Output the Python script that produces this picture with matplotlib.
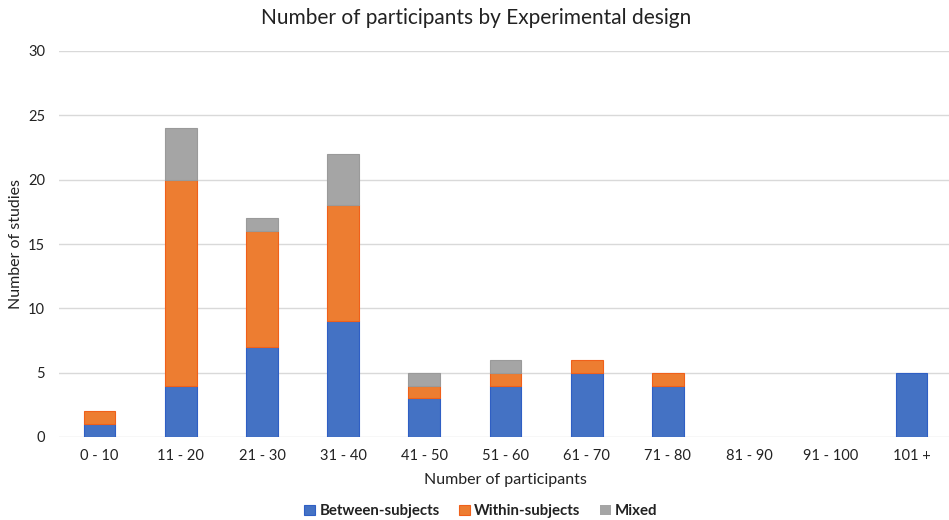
import matplotlib
matplotlib.use("Agg")
import matplotlib.pyplot as plt
import numpy as np

categories = ["0 - 10", "11 - 20", "21 - 30", "31 - 40", "41 - 50", "51 - 60",
              "61 - 70", "71 - 80", "81 - 90", "91 - 100", "101 +"]
between = [1, 4, 7, 9, 3, 4, 5, 4, 0, 0, 5]
within = [1, 16, 9, 9, 1, 1, 1, 1, 0, 0, 0]
mixed = [0, 4, 1, 4, 1, 1, 0, 0, 0, 0, 0]
yticks = [0, 5, 10, 15, 20, 25, 30]

plt.rcParams['font.family'] = ['Lato', 'DejaVu Sans']

fig = plt.figure(figsize=(9.49, 5.2), dpi=100)
W, H = 949, 520
ax = fig.add_axes([59 / W, (520 - 437) / H, 893 / W, (437 - 51) / H])

x = np.arange(len(categories))
b = np.array(between)
w = np.array(within)
m = np.array(mixed)
bw = 0.39

def lw(v):
    return [0.8 if vi > 0 else 0 for vi in v]

ax.bar(x, b, bw, color="#4472C4", edgecolor="#2F5FC4", linewidth=lw(b), label="Between-subjects", zorder=3)
ax.bar(x, w, bw, bottom=b, color="#ED7D31", edgecolor="#F0601A", linewidth=lw(w), label="Within-subjects", zorder=3)
ax.bar(x, m, bw, bottom=b + w, color="#A5A5A5", edgecolor="#9A9A9A", linewidth=lw(m), label="Mixed", zorder=3)

ax.set_xlim(-0.5, 10.5)
ax.set_ylim(0, 30)
ax.set_yticks(yticks)
ax.set_xticks(x)
ax.set_xticklabels(categories)
ax.yaxis.grid(True, color="#D9D9D9", linewidth=1)
ax.set_axisbelow(True)
for s in ax.spines.values():
    s.set_visible(False)
ax.tick_params(axis="both", length=0, labelsize=10.5, colors="#222222")
ax.tick_params(axis="y", pad=10)
ax.tick_params(axis="x", pad=9)

ax.set_xlabel("Number of participants", fontsize=11.5, color="#222222", labelpad=7)
ax.set_ylabel("Number of studies", fontsize=11.5, color="#222222")
ax.yaxis.set_label_coords((16 - 59) / 893, 0.5)
ax.yaxis.label.set_va("center")
fig.text(476 / W, 1 - 18 / H, "Number of participants by Experimental design",
         ha="center", va="center", fontsize=15, color="#222222")

leg = fig.legend(loc="center", bbox_to_anchor=(481 / W, 1 - 511 / H), ncol=3, frameon=False,
                 handlelength=0.7, handleheight=0.7, handletextpad=0.3,
                 columnspacing=1.3, prop={'weight': 'bold', 'size': 10.8})
for t in leg.get_texts():
    t.set_color("#222222")

fig.savefig("out.png", dpi=100)
